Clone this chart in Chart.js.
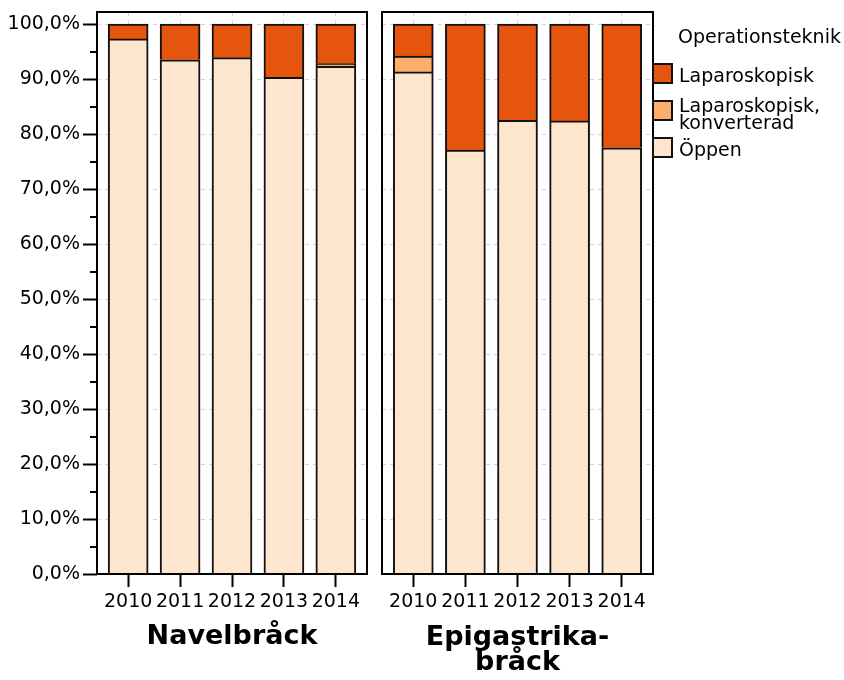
<!DOCTYPE html>
<html lang="sv">
<head>
<meta charset="utf-8">
<title>Operationsteknik</title>
<script src="https://cdn.jsdelivr.net/npm/chart.js@4.4.1/dist/chart.umd.min.js"></script>
<style>
  html, body { margin: 0; padding: 0; background: #fff; }
  #wrap { position: relative; width: 844px; height: 680px; }
  #wrap canvas { position: absolute; top: 0; }
  #navel { left: 0; }
  #epi { left: 372px; }
</style>
</head>
<body>
<div id="wrap">
  <canvas id="navel" width="372" height="680"></canvas>
  <canvas id="epi" width="472" height="680"></canvas>
</div>
<script>
// Data (percent of operations per year)
const years = ['2010', '2011', '2012', '2013', '2014'];
const yTickValues = [0, 10, 20, 30, 40, 50, 60, 70, 80, 90, 100];
const yMinorTicks = [5, 15, 25, 35, 45, 55, 65, 75, 85, 95];

const navelOppen = [97.3, 93.5, 93.9, 90.3, 92.3];
const navelKonv  = [0, 0, 0, 0, 0.5];
const navelLap   = [2.7, 6.5, 6.1, 9.7, 7.2];

const epiOppen = [91.3, 77.1, 82.5, 82.4, 77.5];
const epiKonv  = [2.9, 0, 0, 0, 0];
const epiLap   = [5.8, 22.9, 17.5, 17.6, 22.5];

const seriesLabels = ['Öppen', 'Laparoskopisk, konverterad', 'Laparoskopisk'];
const seriesColors = ['#fee6ce', '#fdae6b', '#e6550d'];
const legendTitle = 'Operationsteknik';
const legendLines = [['Laparoskopisk'], ['Laparoskopisk,', 'konverterad'], ['Öppen']];

Chart.defaults.font.family = "'DejaVu Sans', sans-serif";
Chart.defaults.color = '#000';

const gridGray = '#d4d4d4';
const tickFont = { family: "'DejaVu Sans', sans-serif", size: 19 };

function buildDatasets(oppen, konv, lap) {
    return [oppen, konv, lap].map((vals, k) => ({
        label: seriesLabels[k],
        data: vals.map((v, i) => ({ x: i, y: v })),
        backgroundColor: seriesColors[k],
        borderColor: '#111',
        borderWidth: 2,
        barThickness: 40
    }));
}

// box round the plot area
const frameBox = {
    id: 'frameBox',
    afterDatasetsDraw(chart) {
        const { ctx, chartArea: a } = chart;
        ctx.save();
        ctx.strokeStyle = '#000';
        ctx.lineWidth = 2;
        ctx.strokeRect(a.left, a.top, a.right - a.left, a.bottom - a.top);
        ctx.restore();
    }
};

// short minor ticks on the y axis
const minorTicks = {
    id: 'minorTicks',
    afterDraw(chart) {
        const { ctx, chartArea: a, scales } = chart;
        ctx.save();
        ctx.strokeStyle = '#000';
        ctx.lineWidth = 2;
        yMinorTicks.forEach(v => {
            const y = Math.round(scales.y.getPixelForValue(v));
            ctx.beginPath();
            ctx.moveTo(a.left - 7, y);
            ctx.lineTo(a.left, y);
            ctx.stroke();
        });
        ctx.restore();
    }
};

// legend at the right of the second panel
const sideLegend = {
    id: 'sideLegend',
    afterDraw(chart) {
        const ctx = chart.ctx;
        const x0 = chart.chartArea.right;
        const swatchTops = [64, 101, 138];
        const baselines = [[82], [112, 129], [156]];
        const order = [2, 1, 0];
        ctx.save();
        ctx.font = "19px 'DejaVu Sans', sans-serif";
        ctx.fillStyle = '#000';
        ctx.textBaseline = 'alphabetic';
        ctx.fillText(legendTitle, x0 + 25, 43);
        order.forEach((k, n) => {
            ctx.fillStyle = seriesColors[k];
            ctx.fillRect(x0, swatchTops[n], 19, 19);
            ctx.strokeStyle = '#111';
            ctx.lineWidth = 2;
            ctx.strokeRect(x0, swatchTops[n], 19, 19);
            ctx.fillStyle = '#000';
            legendLines[n].forEach((line, j) => {
                ctx.fillText(line, x0 + 26, baselines[n][j]);
            });
        });
        ctx.restore();
    }
};

function makeOptions(isLeft, titleText, titlePad, titleLineHeight, padRight) {
    return {
        responsive: false,
        animation: false,
        devicePixelRatio: 1,
        layout: { padding: { top: 12, right: padRight, bottom: 0, left: 0 } },
        plugins: {
            legend: { display: false },
            tooltip: { enabled: false }
        },
        scales: {
            x: {
                type: 'linear',
                min: -0.6,
                max: 4.6,
                offset: false,
                stacked: true,
                afterBuildTicks: s => { s.ticks = years.map((_, i) => ({ value: i })); },
                ticks: {
                    callback: v => years[v],
                    autoSkip: false,
                    maxRotation: 0,
                    padding: 4,
                    color: '#000',
                    font: tickFont
                },
                grid: {
                    offset: false,
                    color: gridGray,
                    lineWidth: 1,
                    tickColor: '#000',
                    tickLength: 13,
                    tickWidth: 2
                },
                border: { display: false, dash: [4, 4] },
                title: {
                    display: true,
                    text: titleText,
                    color: '#000',
                    font: { family: "'DejaVu Sans', sans-serif", size: 27, weight: 'bold', lineHeight: titleLineHeight },
                    padding: { top: 0, bottom: titlePad }
                },
                afterFit: s => {
                    s.height = 106;
                    s.paddingLeft = 0;
                    s.paddingRight = 0;
                }
            },
            y: {
                min: 0,
                max: 102.2,
                stacked: true,
                afterBuildTicks: s => { s.ticks = yTickValues.map(v => ({ value: v })); },
                ticks: {
                    display: isLeft,
                    callback: v => v.toFixed(1).replace('.', ',') + '%',
                    padding: 3,
                    color: '#000',
                    font: tickFont
                },
                grid: {
                    color: gridGray,
                    lineWidth: 1,
                    drawTicks: isLeft,
                    tickColor: '#000',
                    tickLength: 14,
                    tickWidth: 2
                },
                border: { display: false, dash: [4, 4] },
                afterFit: s => {
                    s.width = isLeft ? 97 : 10;
                    s.paddingTop = 0;
                    s.paddingBottom = 0;
                }
            }
        }
    };
}

document.addEventListener('DOMContentLoaded', function() {
    new Chart(document.getElementById('navel'), {
        type: 'bar',
        data: { datasets: buildDatasets(navelOppen, navelKonv, navelLap) },
        options: makeOptions(true, 'Navelbråck', 27, 1.2, 5),
        plugins: [frameBox, minorTicks]
    });

    new Chart(document.getElementById('epi'), {
        type: 'bar',
        data: { datasets: buildDatasets(epiOppen, epiKonv, epiLap) },
        options: makeOptions(false, ['Epigastrika-', 'bråck'], 5, 25 / 27, 191),
        plugins: [frameBox, sideLegend]
    });
});
</script>
</body>
</html>
